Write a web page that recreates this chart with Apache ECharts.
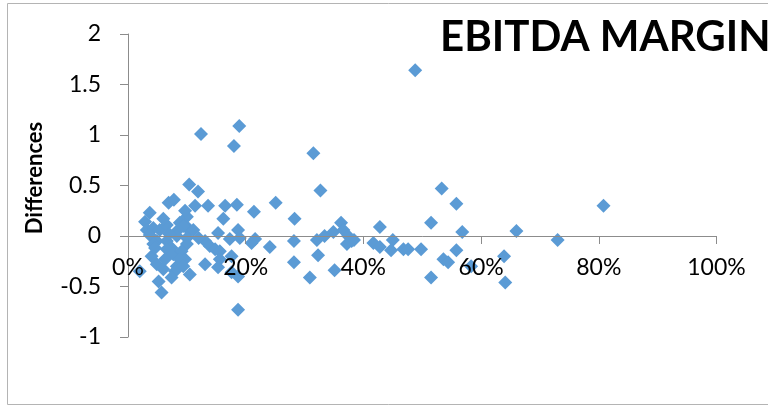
<!DOCTYPE html>
<html>
<head>
<meta charset="utf-8">
<script src="https://cdn.jsdelivr.net/npm/echarts@6/dist/echarts.min.js"></script>
<style>
  html, body { margin: 0; padding: 0; background: #fff; }
  #chart { width: 768px; height: 410px; }
</style>
</head>
<body>
<div id="chart"></div>
<script>
// EBITDA margin (x) vs difference (y)
var margins = [
  0.488, 0.315, 0.327, 0.251, 0.283, 0.282, 0.282, 0.309, 0.323, 0.321,
  0.334, 0.349, 0.362, 0.351, 0.366, 0.374, 0.380, 0.372, 0.384, 0.241,
  0.214, 0.808, 0.730, 0.660, 0.639, 0.641, 0.558, 0.515, 0.428, 0.568,
  0.417, 0.428, 0.450, 0.447, 0.468, 0.476, 0.498, 0.558, 0.536, 0.544,
  0.515, 0.583, 0.533,
  0.124, 0.189, 0.180, 0.104, 0.119, 0.069, 0.078, 0.114, 0.136, 0.165,
  0.185, 0.162, 0.187, 0.153, 0.100, 0.097, 0.105, 0.173, 0.190, 0.216,
  0.210, 0.131, 0.139, 0.148, 0.156, 0.176, 0.156, 0.131, 0.153, 0.176,
  0.187, 0.187,
  0.037, 0.029, 0.032, 0.043, 0.037, 0.049, 0.054, 0.066, 0.088, 0.097,
  0.094, 0.085, 0.083, 0.100, 0.066, 0.074, 0.100, 0.111, 0.043, 0.066,
  0.077, 0.091, 0.049, 0.060, 0.083, 0.097, 0.052, 0.057, 0.020, 0.040,
  0.063, 0.088, 0.094, 0.080, 0.074, 0.105, 0.046, 0.060, 0.070, 0.120
];
var differences = [
  1.64, 0.82, 0.45, 0.33, 0.17, -0.05, -0.26, -0.41, -0.19, -0.04,
  0.00, 0.04, 0.13, -0.34, 0.06, 0.00, -0.05, -0.08, -0.04, -0.11,
  0.24, 0.30, -0.04, 0.05, -0.20, -0.46, 0.32, 0.13, 0.09, 0.04,
  -0.07, -0.11, -0.04, -0.14, -0.13, -0.13, -0.13, -0.14, -0.23, -0.26,
  -0.41, -0.30, 0.47,
  1.01, 1.09, 0.89, 0.51, 0.44, 0.33, 0.36, 0.30, 0.30, 0.30,
  0.31, 0.17, 0.06, 0.03, 0.19, 0.11, 0.05, -0.03, -0.02, -0.03,
  -0.07, -0.05, -0.10, -0.13, -0.15, -0.20, -0.23, -0.28, -0.31, -0.36,
  -0.40, -0.73,
  0.23, 0.14, 0.06, 0.08, 0.01, -0.05, 0.06, 0.11, 0.13, 0.25,
  0.10, 0.06, 0.00, -0.02, -0.05, -0.12, -0.08, 0.06, -0.08, -0.13,
  -0.18, -0.15, -0.28, -0.33, -0.30, -0.23, -0.45, -0.56, -0.35, -0.20,
  -0.23, -0.23, -0.30, -0.35, -0.41, -0.38, -0.12, 0.17, 0.02, -0.02
];
var xTicks = [0, 0.2, 0.4, 0.6, 0.8, 1];
var yTicks = [-1, -0.5, 0, 0.5, 1, 1.5, 2];

var points = margins.map(function (m, i) { return [m, differences[i]]; });
var axisGray = '#8c8c8c';
var font = 'Lato, "Open Sans", sans-serif';

var gridTop = 34, gridBottom = 73, chartH = 410;
// move the x axis up from the bottom of the grid to y = 0
var plotH = chartH - gridTop - gridBottom;
var zeroOffset = -plotH * (0 - yTicks[0]) / (yTicks[yTicks.length - 1] - yTicks[0]);

var myChart = echarts.init(document.getElementById('chart'));
var option = {
  animation: false,
  textStyle: { fontFamily: font },
  grid: { left: 128, right: 51.5, top: gridTop, bottom: gridBottom },
  graphic: [
    {
      type: 'rect',
      shape: { x: 7.5, y: 3.5, width: 800, height: 401 },
      style: { fill: 'none', stroke: '#b4b4b4', lineWidth: 1 },
      silent: true
    },
    {
      type: 'text',
      left: 440, top: 16,
      style: { text: 'EBITDA MARGIN', font: 'bold 42px ' + font, fill: '#000' }
    },
    {
      type: 'text',
      x: 35, y: 178, rotation: Math.PI / 2,
      style: {
        text: 'Differences', font: 'bold 22px ' + font, fill: '#000',
        align: 'center', verticalAlign: 'middle'
      }
    }
  ],
  xAxis: {
    type: 'value',
    z: 5,
    min: xTicks[0], max: xTicks[xTicks.length - 1], interval: 0.2,
    offset: zeroOffset,
    splitLine: { show: false },
    axisLine: { onZero: false, lineStyle: { color: axisGray } },
    axisTick: { show: true, inside: false, length: 8, lineStyle: { color: axisGray } },
    axisLabel: {
      margin: 20, fontSize: 23, color: '#000', fontFamily: font,
      formatter: function (v) { return Math.round(v * 100) + '%'; }
    }
  },
  yAxis: {
    type: 'value',
    min: yTicks[0], max: yTicks[yTicks.length - 1], interval: 0.5,
    splitLine: { show: false },
    axisLine: { show: true, onZero: false, lineStyle: { color: axisGray } },
    axisTick: { show: true, inside: false, length: 8, lineStyle: { color: axisGray } },
    axisLabel: { margin: 27, fontSize: 23, color: '#000', fontFamily: font }
  },
  series: [
    {
      type: 'scatter',
      symbol: 'diamond',
      symbolSize: 14,
      itemStyle: { color: '#5b9bd5', opacity: 1 },
      data: points
    }
  ]
};
myChart.setOption(option);
</script>
</body>
</html>
